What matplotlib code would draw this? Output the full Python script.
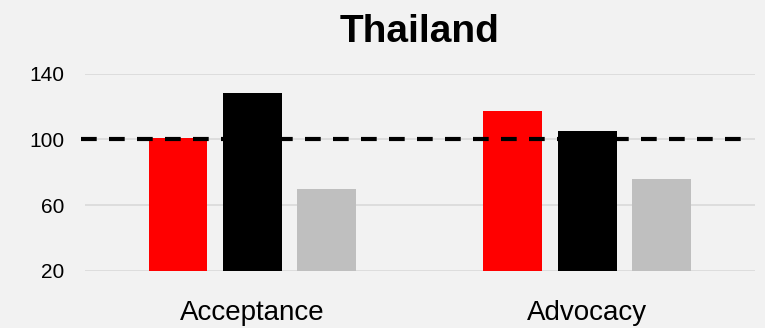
import matplotlib
matplotlib.use("Agg")
import matplotlib.pyplot as plt
import numpy as np

plt.rcParams["font.family"] = ["Liberation Sans", "DejaVu Sans"]

TITLE = "Thailand"
categories = ["Acceptance", "Advocacy"]
series_red = [101, 117]
series_black = [128, 105]
series_grey = [70, 76]
baseline = 100
yticks = [20, 60, 100, 140]

BG = "#f2f2f2"
colors = ["#ff0000", "#000000", "#bfbfbf"]

fig = plt.figure(figsize=(7.65, 3.28), dpi=100, facecolor=BG)
ax = fig.add_axes([0.111, 0.1747, 0.8755, 0.6006], facecolor=BG)

x = np.arange(len(categories))
w = 0.176
step = 0.222
for i, (vals, c) in enumerate(zip([series_red, series_black, series_grey], colors)):
    ax.bar(x + (i - 1) * step, np.array(vals) - yticks[0], w, bottom=yticks[0],
           color=c, zorder=2)

# reference line at 100, a bit wider than the plot on the left
ax.axhline(baseline, xmin=-0.006, xmax=0.9795, color="black", lw=3,
           ls=(0, (3.77, 2.95)), zorder=3, clip_on=False)

ax.set_xlim(-0.5, 1.5)
ax.set_ylim(yticks[0], yticks[-1])
ax.set_yticks(yticks)
ax.yaxis.grid(True, color="#d9d9d9", lw=1.2, zorder=0)
ax.set_axisbelow(True)
for s in ax.spines.values():
    s.set_visible(False)
ax.tick_params(axis="y", length=0, pad=15, labelsize=15)
ax.tick_params(axis="x", length=0, pad=21, labelsize=20)
ax.set_xticks(x)
ax.set_xticklabels(categories)
ax.set_title(TITLE, fontsize=28, fontweight="bold", pad=23)

fig.savefig("out.png", dpi=100, facecolor=BG)
